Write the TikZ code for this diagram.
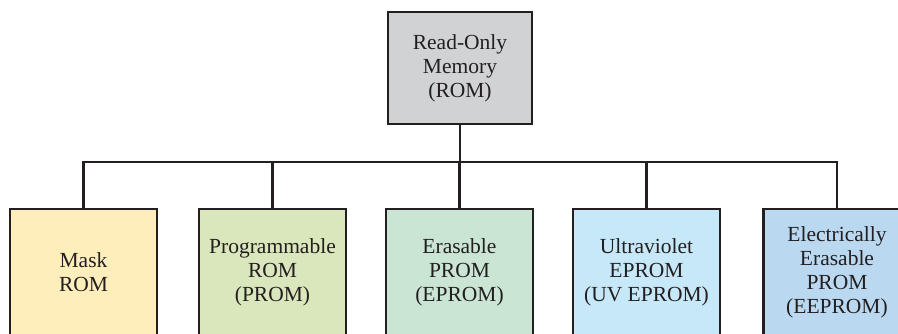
\documentclass[tikz,border=0pt]{standalone}
\usepackage{fontspec}
\setmainfont{Liberation Serif}
\usepackage{tikz}

\definecolor{linegray}{HTML}{231F20}
\definecolor{romgray}{HTML}{D1D2D4}
\definecolor{maskyellow}{HTML}{FDEEBC}
\definecolor{promgreen}{HTML}{DAE7BC}
\definecolor{epromgreen}{HTML}{CBE5D4}
\definecolor{uvblue}{HTML}{C7E8F8}
\definecolor{eeblue}{HTML}{BAD9F1}

\tikzset{
    membox/.style={draw=linegray, line width=2.8pt, align=center, inner sep=0pt,
        font=\fontsize{21.5}{24}\selectfont, text=linegray},
    topbox/.style={membox, fill=romgray, minimum width=144pt, minimum height=112pt},
    leafbox/.style={membox, minimum width=147pt, minimum height=127pt},
    link/.style={draw=linegray, line width=2.2pt}
}

\begin{document}
\begin{tikzpicture}[x=1pt, y=1pt]
                \useasboundingbox (0,0) rectangle (898,333);
                \coordinate (bar) at (0,171);
                \node[topbox] (rom) at (460,265) {Read-Only\\Memory\\(ROM)};
                \node[leafbox, fill=maskyellow] (mask) at (83.5,60.5) {Mask\\ROM};
                \node[leafbox, fill=promgreen] (prom) at (272.5,60.5) {Programmable\\ROM\\(PROM)};
                \node[leafbox, fill=epromgreen] (eprom) at (459.5,60.5) {Erasable\\PROM\\(EPROM)};
                \node[leafbox, fill=uvblue] (uveprom) at (646.5,60.5) {Ultraviolet\\EPROM\\(UV EPROM)};
                \node[leafbox, fill=eeblue] (eeprom) at (837,60.5) {Electrically\\Erasable\\PROM\\(EEPROM)};
                \draw[link] (rom.south) -- (rom.south |- bar);
                \draw[link] (mask.north) |- (bar -| eeprom.north) -- (eeprom.north);
                \foreach \leaf in {prom, eprom, uveprom}
                    \draw[link] (\leaf.north) -- (bar -| \leaf.north);
            \end{tikzpicture}
\end{document}
